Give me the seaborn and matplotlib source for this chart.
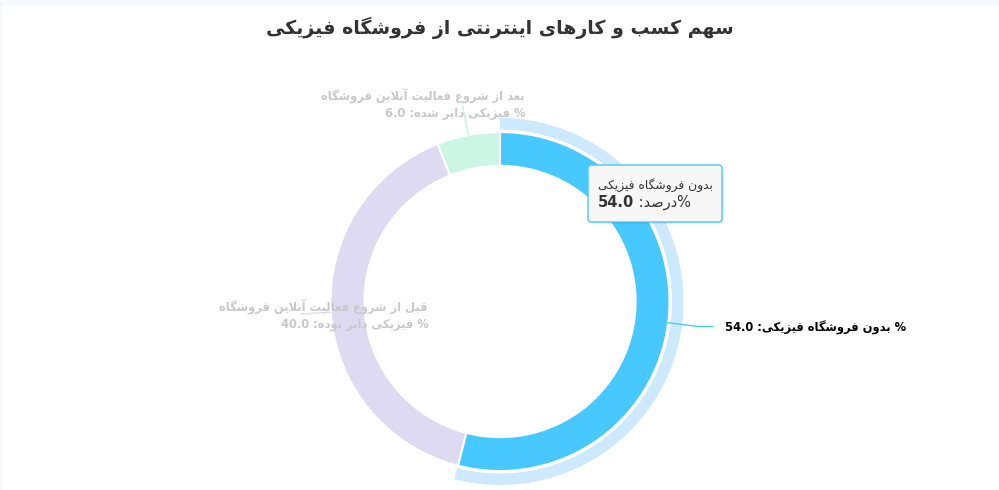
import numpy as np
import matplotlib
matplotlib.use("Agg")
import matplotlib.pyplot as plt
import seaborn as sns
from matplotlib.patches import Wedge, FancyBboxPatch, Rectangle

# داده‌ها
categories = [
    "بدون فروشگاه فیزیکی",
    "قبل از شروع فعالیت آنلاین فروشگاه فیزیکی دایر بوده",
    "بعد از شروع فعالیت آنلاین فروشگاه فیزیکی دایر شده",
]
values = [54.0, 40.0, 6.0]
title = "سهم کسب و کارهای اینترنتی از فروشگاه فیزیکی"
series_name = "درصد"

# شکل‌دهی حروف فارسی (matplotlib خودش این کار را نمی‌کند)
FORMS = {
    "ا": ("\uFE8D", "\uFE8E", None, None),
    "آ": ("\uFE81", "\uFE82", None, None),
    "ب": ("\uFE8F", "\uFE90", "\uFE91", "\uFE92"),
    "ت": ("\uFE95", "\uFE96", "\uFE97", "\uFE98"),
    "د": ("\uFEA9", "\uFEAA", None, None),
    "ر": ("\uFEAD", "\uFEAE", None, None),
    "ز": ("\uFEAF", "\uFEB0", None, None),
    "س": ("\uFEB1", "\uFEB2", "\uFEB3", "\uFEB4"),
    "ش": ("\uFEB5", "\uFEB6", "\uFEB7", "\uFEB8"),
    "ص": ("\uFEB9", "\uFEBA", "\uFEBB", "\uFEBC"),
    "ع": ("\uFEC9", "\uFECA", "\uFECB", "\uFECC"),
    "ف": ("\uFED1", "\uFED2", "\uFED3", "\uFED4"),
    "ق": ("\uFED5", "\uFED6", "\uFED7", "\uFED8"),
    "ل": ("\uFEDD", "\uFEDE", "\uFEDF", "\uFEE0"),
    "م": ("\uFEE1", "\uFEE2", "\uFEE3", "\uFEE4"),
    "ن": ("\uFEE5", "\uFEE6", "\uFEE7", "\uFEE8"),
    "ه": ("\uFEE9", "\uFEEA", "\uFEEB", "\uFEEC"),
    "و": ("\uFEED", "\uFEEE", None, None),
    "ی": ("\uFBFC", "\uFBFD", "\uFBFE", "\uFBFF"),
    "ک": ("\uFB8E", "\uFB8F", "\uFB90", "\uFB91"),
    "گ": ("\uFB92", "\uFB93", "\uFB94", "\uFB95"),
}
LAM_ALEF = {"ا": ("\uFEFB", "\uFEFC"), "آ": ("\uFEF5", "\uFEF6")}


def dual(c):
    return c in FORMS and FORMS[c][2] is not None


def vis(text):
    text = text.replace("ي", "ی").replace("ك", "ک")
    out = []
    i = 0
    while i < len(text):
        c = text[i]
        if c not in FORMS:
            out.append(c)
            i += 1
            continue
        prev = text[i - 1] if i > 0 else ""
        joins_prev = dual(prev)
        nxt = text[i + 1] if i + 1 < len(text) else ""
        if c == "ل" and nxt in LAM_ALEF:
            out.append(LAM_ALEF[nxt][1 if joins_prev else 0])
            i += 2
            continue
        joins_next = dual(c) and nxt in FORMS
        iso, fin, ini, med = FORMS[c]
        if joins_prev and joins_next:
            out.append(med)
        elif joins_prev:
            out.append(fin)
        elif joins_next:
            out.append(ini)
        else:
            out.append(iso)
        i += 1
    return "".join(out)[::-1]


sns.set_theme(style="white")
plt.rcParams["font.family"] = ["DejaVu Sans"]

W, H = 999, 490
fig = plt.figure(figsize=(W / 100, H / 100), dpi=100)
fig.patch.set_facecolor("#f7f8fa")
ax = fig.add_axes([0, 0, 1, 1])
ax.patch.set_alpha(0)

colors = ["#47c8ff", "#dddaf2", "#cbf6e3"]
cx, cy, R = 500, 301.5, 169.5
wedges, _ = ax.pie(values, colors=colors, radius=R, center=(cx, cy),
                   startangle=-90, counterclock=True,
                   wedgeprops=dict(width=0.2 * R, edgecolor="white", linewidth=1.5))
ax.set_xlim(0, W)
ax.set_ylim(H, 0)
ax.set_aspect("equal")
ax.axis("off")
ax.add_patch(Rectangle((2, 5), W, H, facecolor="white", edgecolor="none", zorder=-10))

# هاله‌ی برش انتخاب شده
w0 = wedges[0]
ax.add_patch(Wedge((cx, cy), R + 14, w0.theta1, w0.theta2, width=11.5,
                   facecolor="#cce9ff", edgecolor="none", zorder=0))

ax.text(cx, 28, vis(title), ha="center", va="center", fontsize=13.6,
        fontweight="bold", color="#333333")

# برچسب‌ها
label_cols = ["black", "#c8c8c8", "#c8c8c8"]
line_cols = ["#47c8ff", "#dddaf2", "#c6f2dd"]
for k, (w, name, v) in enumerate(zip(wedges, categories, values)):
    mid = np.deg2rad((w.theta1 + w.theta2) / 2)
    ex, ey = cx + R * np.cos(mid), cy + R * np.sin(mid)
    ax_, ay_ = cx + (R + 30) * np.cos(mid), cy + (R + 30) * np.sin(mid)
    words = name.split()
    if np.cos(mid) > 0:
        ax.plot([ex, ax_, ax_ + 15], [ey, ay_, ay_], color=line_cols[k], lw=1, zorder=1)
        ax.text(ax_ + 27, ay_ + 1, f"{v:.1f} :" + vis(name) + " %", ha="left",
                va="center", fontsize=8.3, fontweight="bold", color=label_cols[k])
    else:
        ax.plot([ex, ax_], [ey, ay_], color=line_cols[k], lw=1, zorder=1)
        l1 = vis(" ".join(words[:6]))
        l2 = f"{v:.1f} :" + vis(" ".join(words[6:])) + " %"
        if k == 1:
            tx, ty = ax_ + 127, ay_ - 7
        else:
            tx, ty = ax_ + 62, ay_ - 9
        ax.text(tx, ty, l1, ha="right", va="center", fontsize=8.3,
                fontweight="bold", color=label_cols[k], zorder=3)
        ax.text(tx + 1, ty + 17, l2, ha="right", va="center", fontsize=8.3,
                fontweight="bold", color=label_cols[k], zorder=3)

# راهنمای شناور
ax.add_patch(FancyBboxPatch((590, 167), 134, 57, boxstyle="round,pad=0,rounding_size=3",
                            facecolor="#000000", alpha=0.08, edgecolor="none", zorder=4))
ax.add_patch(FancyBboxPatch((588, 165), 134, 57, boxstyle="round,pad=0,rounding_size=3",
                            facecolor="#f7f7f7", edgecolor=colors[0], lw=1, zorder=5))
ax.text(598, 185, vis(categories[0]), ha="left", va="center", fontsize=8.8,
        color="#333333", zorder=6)
tb = ax.text(598, 202, f"{values[0]:.1f}", ha="left", va="center", fontsize=10.5,
             fontweight="bold", color="#333333", zorder=6)
ax.annotate(" :" + vis(series_name) + "%", xy=(1, 0.5), xycoords=tb, ha="left",
            va="center", fontsize=10.5, color="#333333", zorder=6)

fig.savefig("out.png", dpi=100, facecolor=fig.get_facecolor())
